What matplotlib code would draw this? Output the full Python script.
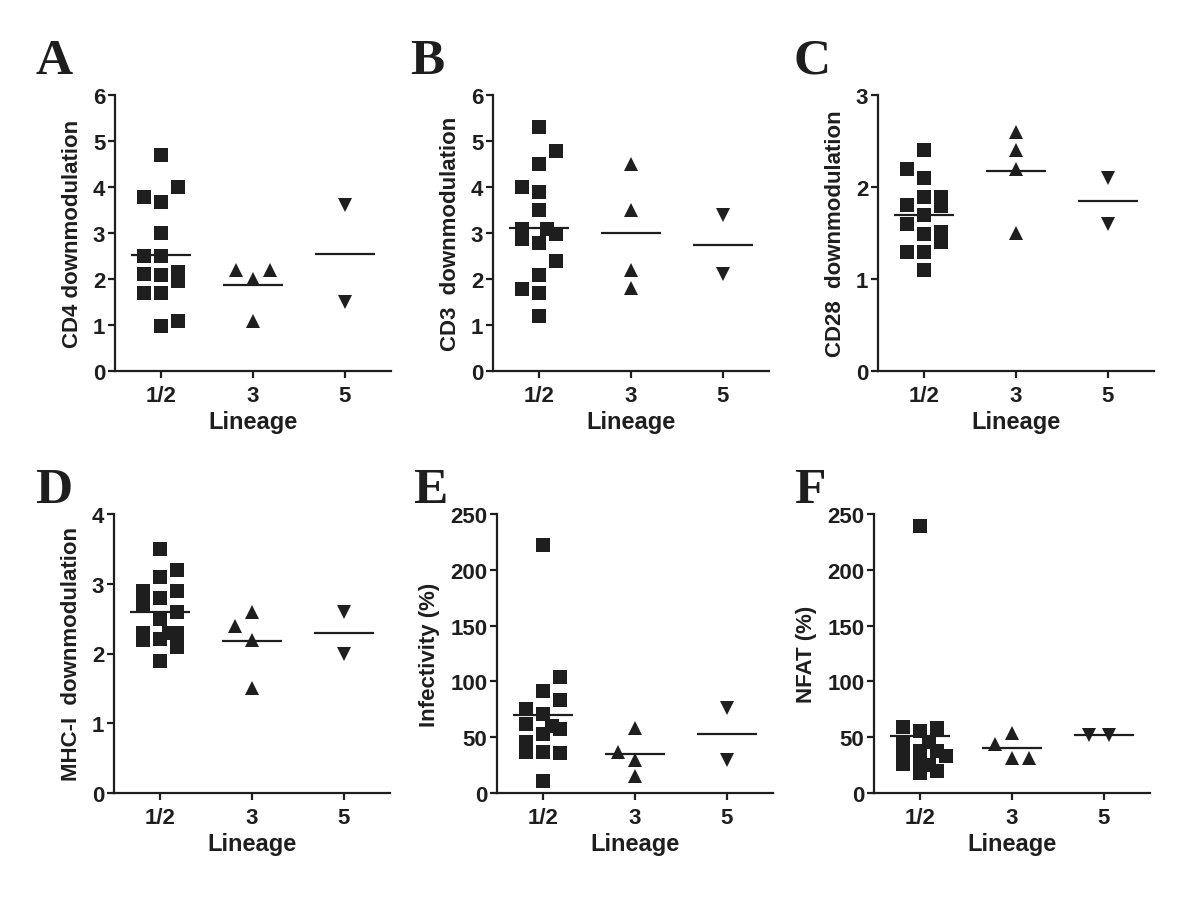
import numpy as np
import matplotlib
matplotlib.use("Agg")
import matplotlib.pyplot as plt

plt.rcParams['font.family'] = ['Liberation Sans', 'DejaVu Sans']
plt.rcParams['font.weight'] = 'bold'

categories = ["1/2", "3", "5"]

# ---- data (values) ----
A_12 = [4.69, 3.78, 3.99, 3.68, 2.99, 2.5, 2.5, 2.1, 1.7, 2.09, 2.15, 1.95, 1.70, 0.98, 1.09]
A_3 = [2.2, 2.2, 2.0, 1.09]
A_5 = [3.6, 1.5]

B_12 = [5.31, 4.79, 4.49, 3.99, 3.89, 3.49, 3.09, 2.87, 3.08, 2.98, 2.78, 2.39, 2.09, 1.79, 1.69, 1.19]
B_3 = [4.5, 3.5, 2.2, 1.8]
B_5 = [3.4, 2.1]

C_12 = [2.4, 2.2, 2.1, 1.89, 1.8, 1.89, 1.79, 1.70, 1.6, 1.49, 1.51, 1.4, 1.29, 1.29, 1.10]
C_3 = [2.6, 2.4, 2.2, 1.5]
C_5 = [2.1, 1.6]

D_12 = [3.5, 3.2, 3.1, 2.9, 2.9, 2.8, 2.7, 2.6, 2.5, 2.29, 2.19, 2.21, 2.29, 2.29, 2.09, 1.89]
D_3 = [2.4, 2.6, 2.2, 1.5]
D_5 = [2.6, 2.0]

E_12 = [222, 104, 91, 83, 75, 71, 62, 60, 57, 53, 46, 37, 37, 36, 11]
E_3 = [58, 37, 30, 15]
E_5 = [76, 30]

F_12 = [239, 59, 56, 58, 46, 45, 38, 38, 33, 32, 27, 26, 25, 20, 18]
F_3 = [44, 54, 31, 31]
F_5 = [52, 52]

# ---- jitter columns (layout, in column-step units) ----
A_12_col = [0, -1, 1, 0, 0, -1, 0, -1, -1, 0, 1, 1, 0, 0, 1]
A_3_col = [-1, 1, 0, 0]
A_5_col = [0, 0]
B_12_col = [0, 1, 0, -1, 0, 0, -1, -1, 0.45, 1, 0, 1, 0, -1, 0, 0]
B_3_col = [0, 0, 0, 0]
B_5_col = [0, 0]
C_12_col = [0, -1, 0, 0, -1, 1, 1, 0, -1, 0, 1, 1, -1, 0, 0]
C_3_col = [0, 0, 0, 0]
C_5_col = [0, 0]
D_12_col = [0, 1, 0, -1, 1, 0, -1, 1, 0, -1, -1, 0, 0.5, 1, 1, 0]
D_3_col = [-1, 0, 0, 0]
D_5_col = [0, 0]
E_12_col = [0, 1, 0, 1, -1, 0, -1, 0.5, 1, 0, -1, -1, 0, 1, 0]
E_3_col = [0, -1, 0, 0]
E_5_col = [0, 0]
F_12_col = [0, -1, 0, 1, 0.5, -1, 0, 1, 1.5, -1, 0, -1, 0.5, 1, 0]
F_3_col = [-1, 0, 0, 1]
F_5_col = [-0.9, 0.3]

panels = [
    dict(letter="A", ylabel="CD4 downmodulation", ylim=6, yticks=[0, 1, 2, 3, 4, 5, 6],
         data=[A_12, A_3, A_5], cols=[A_12_col, A_3_col, A_5_col]),
    dict(letter="B", ylabel="CD3  downmodulation", ylim=6, yticks=[0, 1, 2, 3, 4, 5, 6],
         data=[B_12, B_3, B_5], cols=[B_12_col, B_3_col, B_5_col]),
    dict(letter="C", ylabel="CD28  downmodulation", ylim=3, yticks=[0, 1, 2, 3],
         data=[C_12, C_3, C_5], cols=[C_12_col, C_3_col, C_5_col]),
    dict(letter="D", ylabel="MHC-I  downmodulation", ylim=4, yticks=[0, 1, 2, 3, 4],
         data=[D_12, D_3, D_5], cols=[D_12_col, D_3_col, D_5_col]),
    dict(letter="E", ylabel="Infectivity (%)", ylim=250, yticks=[0, 50, 100, 150, 200, 250],
         data=[E_12, E_3, E_5], cols=[E_12_col, E_3_col, E_5_col]),
    dict(letter="F", ylabel="NFAT (%)", ylim=250, yticks=[0, 50, 100, 150, 200, 250],
         data=[F_12, F_3, F_5], cols=[F_12_col, F_3_col, F_5_col]),
]

W, H = 1200, 903
fig = plt.figure(figsize=(W / 100, H / 100), dpi=100)

# axes rectangles in pixels: (left, top, right, bottom)
rects = [(115, 96, 391, 372), (493, 96, 769, 372), (878, 96, 1154, 372),
         (114, 515, 390, 794), (497, 515, 773, 794), (874, 515, 1150, 794)]
letter_pos = [(35, 74), (410, 74), (794, 74), (35, 503), (413, 503), (794, 503)]

markers = ['s', '^', 'v']
ink = '#1e1e1e'
step = 0.185

for p, r, lp in zip(panels, rects, letter_pos):
    l, t, rr, b = r
    ax = fig.add_axes([l / W, 1 - b / H, (rr - l) / W, (b - t) / H])
    for i, (vals, cols) in enumerate(zip(p["data"], p["cols"])):
        xs = i + step * np.array(cols)
        ax.plot(xs, vals, linestyle='none', marker=markers[i], markersize=9.5,
                color=ink, markeredgewidth=0, clip_on=False, zorder=3)
        m = np.mean(vals)
        ax.plot([i - 0.33, i + 0.33], [m, m], color=ink, lw=1.6, zorder=4,
                solid_capstyle='butt')
    ax.set_xlim(-0.5, 2.5)
    ax.set_ylim(0, p["ylim"])
    ax.set_yticks(p["yticks"])
    ax.set_xticks(range(3))
    ax.set_xticklabels(categories)
    for s in ['top', 'right']:
        ax.spines[s].set_visible(False)
    for s in ['left', 'bottom']:
        ax.spines[s].set_linewidth(1.6)
        ax.spines[s].set_color(ink)
    ax.tick_params(axis='both', direction='out', length=5, width=1.6, color=ink,
                   labelsize=16, labelcolor=ink)
    ax.tick_params(axis='y', pad=2)
    ax.tick_params(axis='x', pad=5)
    for lab in ax.get_xticklabels() + ax.get_yticklabels():
        lab.set_fontweight('bold')
    ax.set_xlabel("Lineage", fontsize=17, fontweight='bold', color=ink, labelpad=3)
    ax.set_ylabel(p["ylabel"], fontsize=16, fontweight='bold', color=ink, labelpad=7)
    fig.text(lp[0] / W, 1 - lp[1] / H, p["letter"], fontsize=37, fontweight='bold',
             family=['Liberation Serif', 'DejaVu Serif'], color=ink, ha='left', va='baseline')

fig.savefig("out.png", dpi=100, facecolor='white')
